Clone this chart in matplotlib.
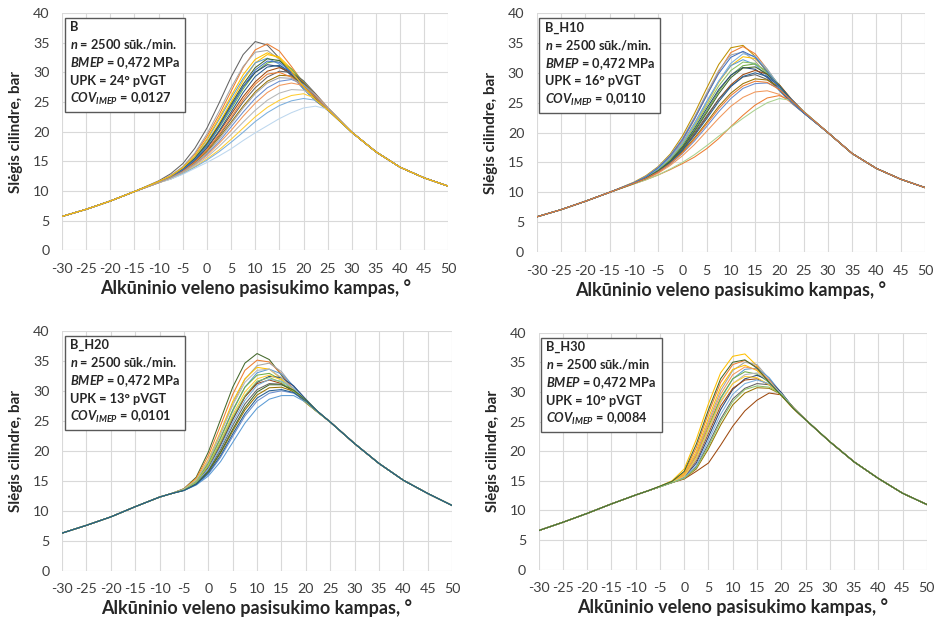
import matplotlib
matplotlib.use("Agg")
import matplotlib.pyplot as plt

plt.rcParams['font.family'] = ['Lato', 'DejaVu Sans']
plt.rcParams['axes.unicode_minus'] = False
plt.rcParams['mathtext.fontset'] = 'custom'
plt.rcParams['mathtext.it'] = 'Lato:italic:bold'
plt.rcParams['mathtext.rm'] = 'Lato:bold'
plt.rcParams['mathtext.bf'] = 'Lato:bold'

# kampai (laipsniai)
ang_comp = [-30, -25, -20, -15]
ang_win = [-10, -7.5, -5, -2.5, 0, 2.5, 5, 7.5, 10, 12.5, 15, 17.5, 20, 22.5, 25]
ang_exp = [30, 35, 40, 45, 50]

# B
b_comp = [5.7, 6.9, 8.3, 9.9]
b_exp = [19.9, 16.6, 14.0, 12.2, 10.8]
b_curves = [
    [11.7, 12.9, 14.6, 17.2, 20.6, 24.8, 29.2, 33.0, 35.2, 34.6, 32.4, 29.6, 27.2, 25.2, 23.6],
    [11.6, 12.6, 14.0, 16.2, 19.2, 22.8, 26.8, 30.8, 33.8, 34.8, 33.6, 31.0, 28.2, 25.8, 23.8],
    [11.6, 12.6, 14.1, 16.4, 19.6, 23.4, 27.4, 31.0, 33.4, 33.7, 32.2, 29.8, 27.4, 25.4, 23.7],
    [11.5, 12.4, 13.7, 15.6, 18.2, 21.4, 25.0, 28.6, 31.6, 33.0, 32.6, 30.6, 28.0, 25.7, 23.8],
    [11.5, 12.4, 13.8, 15.8, 18.6, 22.0, 25.6, 29.0, 31.6, 32.4, 31.4, 29.4, 27.2, 25.3, 23.7],
    [11.5, 12.3, 13.5, 15.2, 17.6, 20.6, 23.8, 27.2, 30.0, 31.6, 32.0, 30.6, 28.4, 26.0, 24.0],
    [11.5, 12.3, 13.6, 15.4, 17.9, 21.0, 24.3, 27.6, 30.0, 31.3, 31.0, 29.6, 27.6, 25.6, 23.8],
    [11.4, 12.2, 13.4, 15.0, 17.2, 19.9, 22.9, 25.9, 28.4, 30.2, 30.8, 30.0, 28.2, 26.0, 24.0],
    [11.4, 12.2, 13.3, 14.8, 16.8, 19.3, 22.1, 25.0, 27.4, 29.2, 30.2, 30.0, 28.6, 26.4, 24.1],
    [11.4, 12.2, 13.3, 14.7, 16.6, 19.0, 21.6, 24.3, 26.7, 28.5, 29.5, 29.4, 28.2, 26.2, 24.0],
    [11.4, 12.1, 13.2, 14.5, 16.2, 18.3, 20.8, 23.3, 25.6, 27.4, 28.5, 28.8, 28.0, 26.2, 24.0],
    [11.4, 12.1, 13.1, 14.4, 16.0, 18.0, 20.2, 22.6, 24.8, 26.6, 27.8, 28.2, 27.8, 26.2, 24.1],
    [11.4, 12.1, 13.0, 14.3, 15.7, 17.5, 19.5, 21.6, 23.6, 25.3, 26.5, 27.1, 27.0, 25.9, 24.1],
    [11.4, 12.0, 12.9, 14.1, 15.4, 16.9, 18.7, 20.6, 22.5, 24.1, 25.3, 26.1, 26.4, 25.6, 24.0],
    [11.4, 12.0, 12.9, 14.0, 15.2, 16.6, 18.2, 19.9, 21.7, 23.2, 24.4, 25.2, 25.6, 25.3, 24.0],
    [11.4, 12.0, 12.8, 13.8, 14.8, 15.9, 17.1, 18.5, 19.8, 21.0, 22.2, 23.2, 24.0, 24.3, 23.8],
    [11.5, 12.4, 13.7, 15.5, 18.0, 21.1, 24.6, 28.0, 30.8, 32.3, 32.0, 30.2, 27.8, 25.6, 23.8],
    [11.5, 12.3, 13.5, 15.1, 17.3, 20.1, 23.3, 26.6, 29.3, 30.9, 31.2, 30.0, 28.0, 25.9, 23.9],
    [11.5, 12.3, 13.6, 15.3, 17.7, 20.8, 24.2, 27.6, 30.4, 31.9, 31.7, 30.0, 27.8, 25.7, 23.8],
    [11.4, 12.2, 13.3, 14.9, 16.9, 19.5, 22.4, 25.4, 28.0, 29.7, 30.0, 29.2, 27.6, 25.8, 23.9],
    [11.4, 12.2, 13.2, 14.6, 16.4, 18.7, 21.3, 24.0, 26.4, 28.2, 29.1, 29.0, 27.9, 26.1, 24.0],
    [11.6, 12.5, 13.9, 15.9, 18.8, 22.3, 26.0, 29.6, 32.2, 33.3, 32.4, 30.2, 27.6, 25.4, 23.7],
]

# B_H10
h10_comp = [5.9, 7.1, 8.5, 10.0]
h10_exp = [20.0, 16.5, 14.0, 12.2, 10.8]
h10_curves = [
    [11.7, 12.8, 14.3, 16.4, 19.4, 23.2, 27.4, 31.4, 34.2, 34.6, 32.8, 30.0, 27.2, 25.0, 23.3],
    [11.6, 12.6, 14.0, 15.9, 18.6, 22.2, 26.2, 30.2, 33.4, 34.4, 33.2, 30.6, 27.8, 25.3, 23.4],
    [11.6, 12.7, 14.2, 16.2, 19.0, 22.6, 26.6, 30.4, 33.0, 33.5, 32.0, 29.6, 27.0, 24.9, 23.3],
    [11.6, 12.5, 13.8, 15.6, 18.0, 21.2, 24.8, 28.4, 31.2, 32.7, 32.4, 30.4, 27.8, 25.3, 23.4],
    [11.6, 12.5, 13.9, 15.8, 18.3, 21.6, 25.2, 28.6, 31.2, 32.2, 31.4, 29.4, 27.0, 25.0, 23.3],
    [11.5, 12.4, 13.6, 15.3, 17.5, 20.4, 23.6, 26.9, 29.6, 31.2, 31.5, 30.2, 28.0, 25.5, 23.4],
    [11.5, 12.4, 13.7, 15.4, 17.7, 20.7, 24.0, 27.2, 29.6, 30.9, 30.6, 29.2, 27.2, 25.1, 23.3],
    [11.5, 12.3, 13.5, 15.1, 17.1, 19.7, 22.6, 25.6, 28.0, 29.7, 30.4, 29.8, 28.0, 25.6, 23.5],
    [11.5, 12.3, 13.5, 15.1, 17.2, 19.9, 22.8, 25.6, 27.8, 29.3, 29.7, 28.9, 27.2, 25.2, 23.4],
    [11.5, 12.3, 13.4, 14.9, 16.8, 19.1, 21.7, 24.4, 26.6, 28.2, 29.0, 28.8, 27.6, 25.6, 23.5],
    [11.5, 12.2, 13.3, 14.7, 16.5, 18.6, 21.0, 23.5, 25.7, 27.4, 28.2, 28.3, 27.4, 25.6, 23.5],
    [11.5, 12.2, 13.2, 14.5, 16.1, 18.0, 20.2, 22.4, 24.4, 25.9, 26.8, 27.0, 26.4, 25.0, 23.4],
    [11.4, 12.1, 12.9, 13.8, 14.8, 15.9, 17.3, 19.0, 21.0, 22.9, 24.6, 25.8, 26.2, 25.3, 23.5],
    [11.4, 12.1, 12.9, 13.9, 15.0, 16.3, 17.8, 19.4, 20.9, 22.4, 23.8, 25.0, 25.7, 25.4, 23.6],
    [11.6, 12.5, 13.9, 15.7, 18.2, 21.4, 25.0, 28.6, 31.6, 33.2, 32.8, 30.6, 27.8, 25.3, 23.4],
    [11.5, 12.4, 13.7, 15.5, 17.9, 21.0, 24.4, 27.8, 30.4, 31.8, 31.6, 30.0, 27.6, 25.2, 23.4],
    [11.5, 12.4, 13.6, 15.2, 17.4, 20.2, 23.3, 26.5, 29.2, 30.8, 31.0, 29.8, 27.8, 25.4, 23.4],
    [11.5, 12.3, 13.5, 15.0, 17.0, 19.5, 22.3, 25.2, 27.7, 29.4, 30.0, 29.4, 27.8, 25.5, 23.5],
    [11.6, 12.6, 14.1, 16.1, 18.8, 22.3, 26.2, 29.9, 32.6, 33.6, 32.6, 30.2, 27.4, 25.1, 23.3],
    [11.5, 12.3, 13.4, 14.8, 16.6, 18.9, 21.4, 24.0, 26.2, 27.8, 28.6, 28.4, 27.2, 25.4, 23.5],
]

# B_H20
h20_comp = [6.3, 7.6, 9.0, 10.7]
h20_exp = [21.2, 17.9, 15.1, 12.9, 10.9]
h20_curves = [
    [12.3, 12.9, 13.7, 15.6, 19.8, 25.2, 30.6, 34.6, 36.2, 35.2, 32.6, 30.0, 28.0, 26.4, 24.8],
    [12.3, 12.9, 13.7, 15.4, 19.2, 24.2, 29.4, 33.4, 35.1, 34.8, 32.8, 30.2, 28.1, 26.4, 24.8],
    [12.3, 12.9, 13.6, 15.0, 18.2, 22.8, 27.8, 31.9, 34.2, 34.6, 33.2, 30.6, 28.3, 26.5, 24.8],
    [12.3, 12.9, 13.6, 15.2, 18.6, 23.2, 28.2, 32.0, 33.9, 33.6, 32.0, 29.9, 28.0, 26.4, 24.8],
    [12.3, 12.9, 13.6, 14.9, 17.8, 22.0, 26.6, 30.6, 33.0, 33.6, 32.8, 30.8, 28.5, 26.5, 24.8],
    [12.3, 12.9, 13.6, 14.9, 17.9, 22.2, 26.8, 30.6, 32.6, 32.9, 31.8, 30.0, 28.1, 26.4, 24.8],
    [12.3, 12.9, 13.5, 14.7, 17.2, 20.9, 25.2, 29.0, 31.4, 32.4, 32.2, 30.8, 28.6, 26.5, 24.8],
    [12.3, 12.9, 13.5, 14.7, 17.4, 21.2, 25.4, 29.0, 31.2, 31.8, 31.2, 29.8, 28.1, 26.4, 24.8],
    [12.3, 12.9, 13.5, 14.6, 16.8, 20.2, 24.2, 27.8, 30.2, 31.2, 31.1, 30.2, 28.5, 26.5, 24.8],
    [12.3, 12.9, 13.5, 14.5, 16.5, 19.6, 23.3, 26.8, 29.3, 30.5, 30.6, 29.9, 28.4, 26.5, 24.8],
    [12.3, 12.9, 13.4, 14.4, 16.1, 18.9, 22.4, 25.8, 28.3, 29.6, 30.0, 29.6, 28.3, 26.5, 24.8],
    [12.3, 12.9, 13.4, 14.3, 15.8, 18.2, 21.4, 24.6, 27.1, 28.6, 29.2, 29.2, 28.1, 26.4, 24.8],
    [12.3, 12.9, 13.6, 15.1, 18.4, 22.9, 27.6, 31.4, 33.4, 33.6, 32.2, 30.2, 28.2, 26.4, 24.8],
    [12.3, 12.9, 13.5, 14.8, 17.6, 21.6, 26.0, 29.8, 32.0, 32.6, 31.8, 30.2, 28.3, 26.5, 24.8],
    [12.3, 12.9, 13.5, 14.6, 17.0, 20.6, 24.7, 28.4, 30.9, 31.9, 31.6, 30.4, 28.5, 26.5, 24.8],
    [12.3, 12.9, 13.5, 14.8, 17.5, 21.4, 25.6, 29.2, 31.6, 32.2, 31.4, 29.9, 28.2, 26.4, 24.8],
    [12.3, 12.9, 13.4, 14.5, 16.6, 19.8, 23.6, 27.2, 29.8, 31.0, 31.0, 30.1, 28.5, 26.5, 24.8],
    [12.3, 12.9, 13.4, 14.4, 16.3, 19.2, 22.8, 26.2, 28.8, 30.0, 30.2, 29.7, 28.3, 26.5, 24.8],
]

# B_H30
h30_comp = [6.6, 8.0, 9.5, 11.1]
h30_exp = [21.6, 18.2, 15.4, 12.9, 11.0]
h30_curves = [
    [12.6, 13.3, 14.1, 15.0, 17.0, 22.0, 28.0, 33.2, 36.0, 36.4, 34.4, 31.6, 29.4, 27.2, 25.3],
    [12.6, 13.3, 14.0, 14.9, 16.4, 20.6, 26.4, 31.6, 34.6, 35.3, 34.2, 31.8, 29.4, 27.2, 25.3],
    [12.6, 13.3, 14.0, 14.9, 16.0, 19.6, 25.0, 30.2, 33.6, 35.0, 34.6, 32.2, 29.6, 27.2, 25.3],
    [12.6, 13.3, 14.0, 14.9, 16.2, 20.0, 25.6, 30.8, 33.8, 34.5, 33.6, 31.6, 29.4, 27.2, 25.3],
    [12.6, 13.3, 14.0, 14.8, 15.8, 18.8, 23.8, 28.8, 32.2, 33.8, 34.0, 32.4, 29.8, 27.3, 25.3],
    [12.6, 13.3, 14.0, 14.8, 15.9, 19.2, 24.2, 29.0, 32.2, 33.4, 33.0, 31.6, 29.5, 27.2, 25.3],
    [12.6, 13.3, 14.0, 14.8, 15.6, 18.0, 22.4, 27.0, 30.4, 32.2, 32.8, 32.0, 29.9, 27.3, 25.3],
    [12.6, 13.3, 14.0, 14.8, 15.7, 18.4, 23.0, 27.6, 30.6, 32.0, 32.2, 31.2, 29.5, 27.2, 25.3],
    [12.6, 13.3, 14.0, 14.7, 15.5, 17.4, 21.2, 25.4, 28.8, 30.6, 31.4, 31.2, 29.8, 27.3, 25.3],
    [12.6, 13.3, 14.0, 14.7, 15.4, 17.0, 20.4, 24.4, 27.8, 29.8, 30.7, 30.6, 29.6, 27.3, 25.3],
    [12.6, 13.3, 14.0, 14.7, 15.3, 16.6, 18.0, 21.0, 24.2, 26.8, 28.6, 29.8, 29.5, 27.4, 25.3],
    [12.6, 13.3, 14.0, 14.8, 16.0, 19.4, 24.6, 29.6, 32.9, 34.2, 33.8, 32.0, 29.6, 27.2, 25.3],
    [12.6, 13.3, 14.0, 14.8, 15.7, 18.6, 23.4, 28.2, 31.4, 32.9, 33.2, 31.8, 29.6, 27.2, 25.3],
    [12.6, 13.3, 14.0, 14.8, 15.8, 18.9, 23.8, 28.4, 31.4, 32.6, 32.4, 31.2, 29.4, 27.2, 25.3],
    [12.6, 13.3, 14.0, 14.7, 15.5, 17.6, 21.8, 26.2, 29.6, 31.4, 32.0, 31.4, 29.7, 27.3, 25.3],
    [12.6, 13.3, 14.0, 14.7, 15.4, 17.2, 20.8, 25.0, 28.4, 30.4, 31.0, 30.8, 29.6, 27.3, 25.3],
    [12.6, 13.3, 14.1, 14.9, 16.6, 21.2, 27.0, 32.2, 35.0, 35.4, 34.0, 31.6, 29.4, 27.2, 25.3],
]

boxes = [
    "B\n$n$ = 2500 sūk./min.\n$BMEP$ = 0,472 MPa\nUPK = 24° pVGT\n$COV_{IMEP}$ = 0,0127",
    "B_H10\n$n$ = 2500 sūk./min.\n$BMEP$ = 0,472 MPa\nUPK = 16° pVGT\n$COV_{IMEP}$ = 0,0110",
    "B_H20\n$n$ = 2500 sūk./min.\n$BMEP$ = 0,472 MPa\nUPK = 13° pVGT\n$COV_{IMEP}$ = 0,0101",
    "B_H30\n$n$ = 2500 sūk./min\n$BMEP$ = 0,472 MPa\nUPK = 10° pVGT\n$COV_{IMEP}$ = 0,0084",
]

colors = ['#4472C4', '#ED7D31', '#A5A5A5', '#FFC000', '#5B9BD5', '#70AD47',
          '#264478', '#9E480E', '#636363', '#997300', '#698ED0', '#F1975A',
          '#B7B7B7', '#FFCD33', '#7CAFDD', '#8CC168', '#43682B', '#255E91']

# spalvos, kurios skiriasi nuo ciklo (kraštinės kreivės)
special = [
    {0: '#636363', 15: '#BDD7EE'},
    {0: '#BF9000', 12: '#ED7D31', 13: '#A9D18E'},
    {0: '#43682B', 11: '#5B9BD5'},
    {0: '#FFC000', 10: '#9E480E'},
]

panels = [
    (b_comp, b_curves, b_exp),
    (h10_comp, h10_curves, h10_exp),
    (h20_comp, h20_curves, h20_exp),
    (h30_comp, h30_curves, h30_exp),
]

# [left, bottom, width, height]
positions = [
    [0.066, 0.599, 0.411, 0.380],
    [0.571, 0.596, 0.413, 0.383],
    [0.066, 0.085, 0.415, 0.385],
    [0.573, 0.087, 0.413, 0.380],
]

fig = plt.figure(figsize=(9.4, 6.24), dpi=100)

for i, (comp, curves, exp) in enumerate(panels):
    ax = fig.add_axes(positions[i])
    x = ang_comp + ang_win + ang_exp
    for j, c in enumerate(curves):
        col = special[i].get(j, colors[j % len(colors)])
        ax.plot(x, comp + c + exp, color=col, lw=0.75)
    ax.set_xlim(-30, 50)
    ax.set_ylim(0, 40)
    ax.set_xticks(range(-30, 51, 5))
    ax.set_yticks(range(0, 41, 5))
    ax.grid(True, color='#d9d9d9', lw=0.8)
    ax.set_axisbelow(True)
    for s in ax.spines.values():
        s.set_visible(False)
    ax.tick_params(length=0, labelsize=10.3, colors='#404040', pad=9)
    ax.set_xlabel("Alkūninio veleno pasisukimo kampas, °", fontsize=13,
                  fontweight='bold', color='#262626', labelpad=3)
    ax.set_ylabel("Slėgis cilindre, bar", fontsize=11, fontweight='bold',
                  color='#262626', labelpad=7)
    ax.text(0.02, 0.965, boxes[i], transform=ax.transAxes, va='top', ha='left',
            fontsize=9.2, fontweight='bold', color='#262626', linespacing=1.35,
            bbox=dict(boxstyle='square,pad=0.4', fc='white', ec='#595959', lw=1))

fig.savefig("out.png", dpi=100)
